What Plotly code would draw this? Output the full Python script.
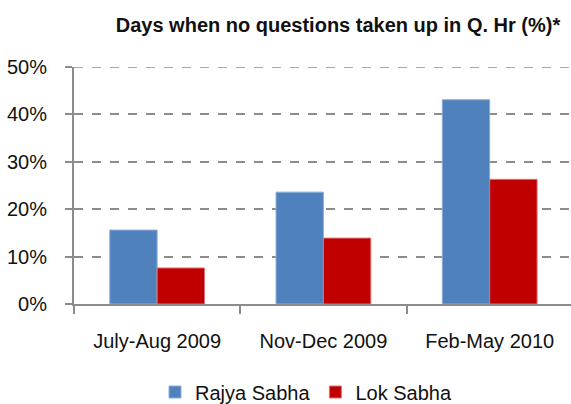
import plotly.graph_objects as go

periods = ['July-Aug 2009', 'Nov-Dec 2009', 'Feb-May 2010']
rajya_sabha = [15.6, 23.6, 43.1]
lok_sabha = [7.6, 13.9, 26.3]
pct_ticks = [0, 10, 20, 30, 40, 50]

FONT = 'Liberation Sans, Arial, sans-serif'
AXIS_GREY = '#8c8c8c'

fig = go.Figure()
fig.add_trace(go.Bar(x=periods, y=rajya_sabha, name='Rajya Sabha',
                     marker=dict(color='#4f81bd', line=dict(color='#8eaedb', width=1))))
fig.add_trace(go.Bar(x=periods, y=lok_sabha, name='Lok Sabha',
                     marker=dict(color='#c00000', line=dict(color='#e07070', width=1))))

fig.update_layout(
    width=571, height=404,
    margin=dict(l=74, r=0, t=67, b=100, autoexpand=False),
    paper_bgcolor='white', plot_bgcolor='white',
    font=dict(family=FONT, size=20, color='#111111'),
    barmode='group', bargap=0.43, bargroupgap=0,
    title=dict(text='<b>Days when no questions taken up in Q. Hr (%)*</b>',
               font=dict(family=FONT, size=20, color='#111111'),
               x=338 / 571, xref='container', xanchor='center',
               y=1 - 25 / 404, yref='container', yanchor='middle'),
    showlegend=True,
    legend=dict(orientation='h', x=306 / 571, xref='container', xanchor='center',
                y=1 - 392 / 404, yref='container', yanchor='middle',
                font=dict(family=FONT, size=20), itemwidth=30, traceorder='normal'),
)

# top gridline sits on the range edge, plotly skips it there, so draw it as a shape
fig.add_hline(y=pct_ticks[-1], line=dict(color=AXIS_GREY, width=1.5, dash='dash'), layer='below')

fig.update_xaxes(
    range=[-0.5, 2.489], showgrid=False, automargin=False,
    showline=True, linecolor=AXIS_GREY, linewidth=2,
    ticks='outside', tickson='boundaries', ticklen=8, tickwidth=2, tickcolor=AXIS_GREY,
    ticklabelstandoff=18,
)
fig.update_yaxes(
    range=[0, 50], tickvals=pct_ticks, ticktext=[f'{v}%' for v in pct_ticks],
    automargin=False,
    showline=True, linecolor=AXIS_GREY, linewidth=2,
    ticks='outside', ticklen=7, tickwidth=2, tickcolor=AXIS_GREY,
    showgrid=True, gridcolor=AXIS_GREY, gridwidth=1.5, griddash='dash',
    zeroline=False, ticklabelstandoff=14,
)

# drop the browser's default 8px body margin so the figure sits at the page corner
fig.write_html('out.html', config={'displayModeBar': False},
               post_script="document.body.style.margin='0';")
